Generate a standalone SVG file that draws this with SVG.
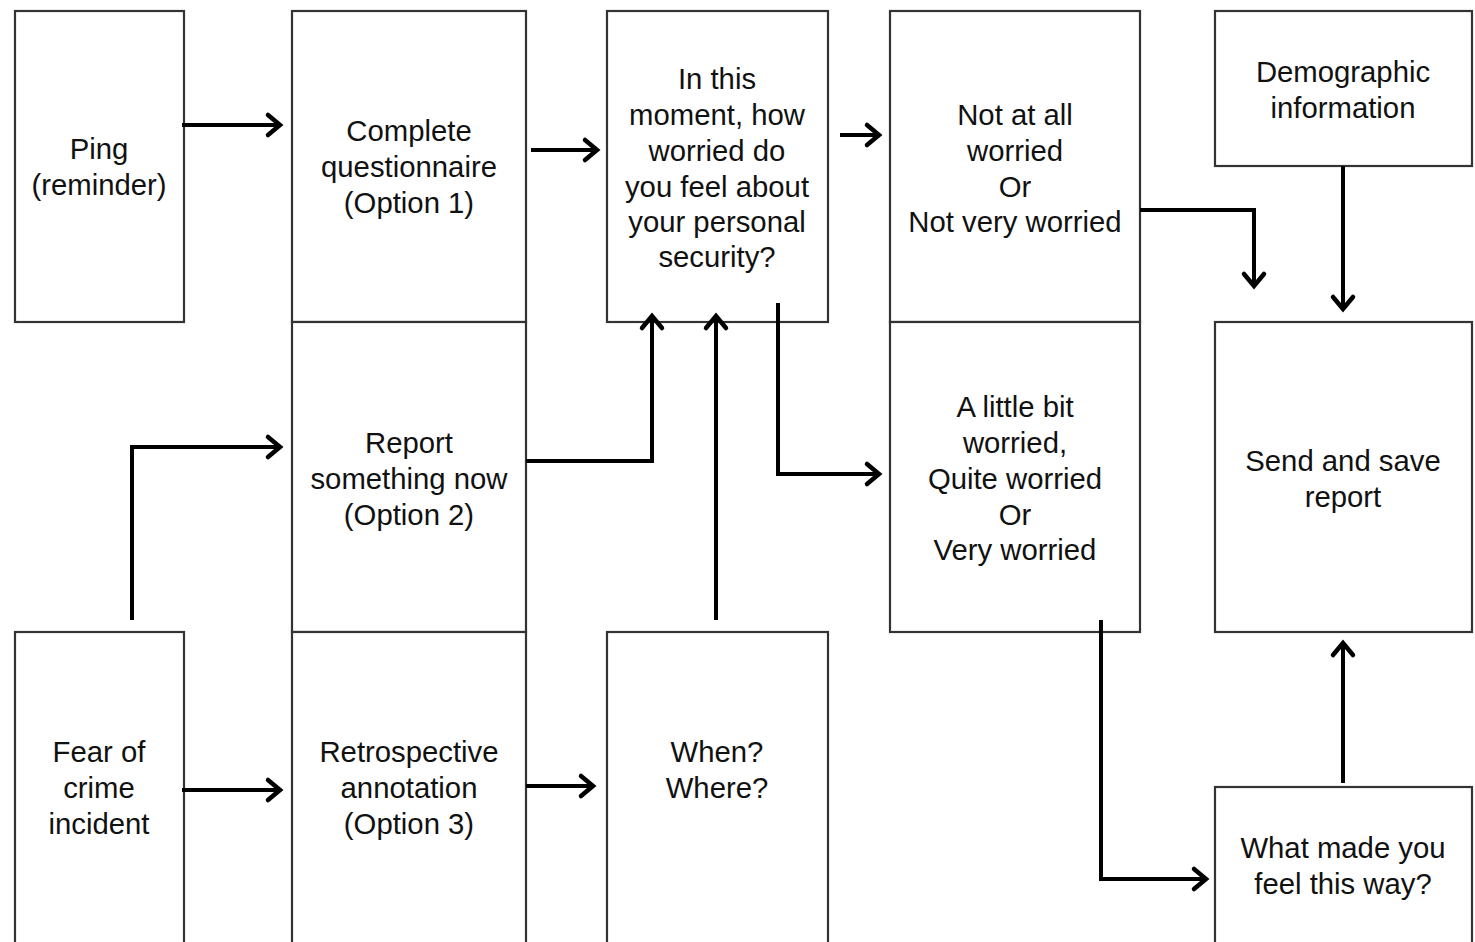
<svg xmlns="http://www.w3.org/2000/svg" width="1475" height="942" viewBox="0 0 1475 942">
<style>
.box{fill:#fff;stroke:#333;stroke-width:2.2}
.t{font-family:"Liberation Sans",Arial,sans-serif;font-size:29.3px;fill:#111;text-anchor:middle}
.c{fill:none;stroke:#000;stroke-width:4;stroke-linejoin:miter}
</style>
<defs>
<marker id="ah" markerUnits="userSpaceOnUse" markerWidth="24" markerHeight="28" refX="14" refY="12" orient="auto" overflow="visible">
<path d="M2,2 L14,12 L2,22" fill="none" stroke="#000" stroke-width="4.5" stroke-linecap="round" stroke-linejoin="miter"/>
</marker>
</defs>
<rect width="1475" height="942" fill="#fff"/>
<g id="ping"><rect class="box" x="15" y="11" width="169" height="311"/>
<text class="t" x="99" y="159">Ping</text><text class="t" x="99" y="195">(reminder)</text></g>
<g id="complete"><rect class="box" x="292" y="11" width="234" height="311"/>
<text class="t" x="409" y="141">Complete</text><text class="t" x="409" y="177">questionnaire</text><text class="t" x="409" y="213">(Option 1)</text></g>
<g id="report"><rect class="box" x="292" y="322" width="234" height="310"/>
<text class="t" x="409" y="453">Report</text><text class="t" x="409" y="489">something now</text><text class="t" x="409" y="525">(Option 2)</text></g>
<g id="retro"><rect class="box" x="292" y="632" width="234" height="312"/>
<text class="t" x="409" y="762">Retrospective</text><text class="t" x="409" y="798">annotation</text><text class="t" x="409" y="834">(Option 3)</text></g>
<g id="fear"><rect class="box" x="15" y="632" width="169" height="312"/>
<text class="t" x="99" y="762">Fear of</text><text class="t" x="99" y="798">crime</text><text class="t" x="99" y="834">incident</text></g>
<g id="moment"><rect class="box" x="607" y="11" width="221" height="311"/>
<text class="t" x="717" y="89">In this</text><text class="t" x="717" y="125">moment, how</text><text class="t" x="717" y="161">worried do</text><text class="t" x="717" y="197">you feel about</text><text class="t" x="717" y="232">your personal</text><text class="t" x="717" y="267">security?</text></g>
<g id="when"><rect class="box" x="607" y="632" width="221" height="312"/>
<text class="t" x="717" y="762">When?</text><text class="t" x="717" y="798">Where?</text></g>
<g id="notatall"><rect class="box" x="890" y="11" width="250" height="311"/>
<text class="t" x="1015" y="125">Not at all</text><text class="t" x="1015" y="161">worried</text><text class="t" x="1015" y="197">Or</text><text class="t" x="1015" y="232">Not very worried</text></g>
<g id="little"><rect class="box" x="890" y="322" width="250" height="310"/>
<text class="t" x="1015" y="417">A little bit</text><text class="t" x="1015" y="453">worried,</text><text class="t" x="1015" y="489">Quite worried</text><text class="t" x="1015" y="525">Or</text><text class="t" x="1015" y="560">Very worried</text></g>
<g id="demo"><rect class="box" x="1215" y="11" width="257" height="155"/>
<text class="t" x="1343" y="82">Demographic</text><text class="t" x="1343" y="118">information</text></g>
<g id="send"><rect class="box" x="1215" y="322" width="257" height="310"/>
<text class="t" x="1343" y="471">Send and save</text><text class="t" x="1343" y="507">report</text></g>
<g id="whatmade"><rect class="box" x="1215" y="787" width="257" height="157"/>
<text class="t" x="1343" y="858">What made you</text><text class="t" x="1343" y="894">feel this way?</text></g>
<g id="connectors">
<path class="c" marker-end="url(#ah)" d="M182,125 H280"/>
<path class="c" marker-end="url(#ah)" d="M531,150 H597"/>
<path class="c" marker-end="url(#ah)" d="M840,135 H879"/>
<path class="c" marker-end="url(#ah)" d="M1140,210 H1254 V286"/>
<path class="c" marker-end="url(#ah)" d="M1343,166 V309"/>
<path class="c" marker-end="url(#ah)" d="M778,303 V474 H879"/>
<path class="c" marker-end="url(#ah)" d="M526,461 H652 V316"/>
<path class="c" marker-end="url(#ah)" d="M716,620 V316"/>
<path class="c" marker-end="url(#ah)" d="M132,620 V447 H280"/>
<path class="c" marker-end="url(#ah)" d="M182,790 H280"/>
<path class="c" marker-end="url(#ah)" d="M526,786 H593"/>
<path class="c" marker-end="url(#ah)" d="M1101,620 V879 H1206"/>
<path class="c" marker-end="url(#ah)" d="M1343,783 V643"/>
</g>
</svg>
